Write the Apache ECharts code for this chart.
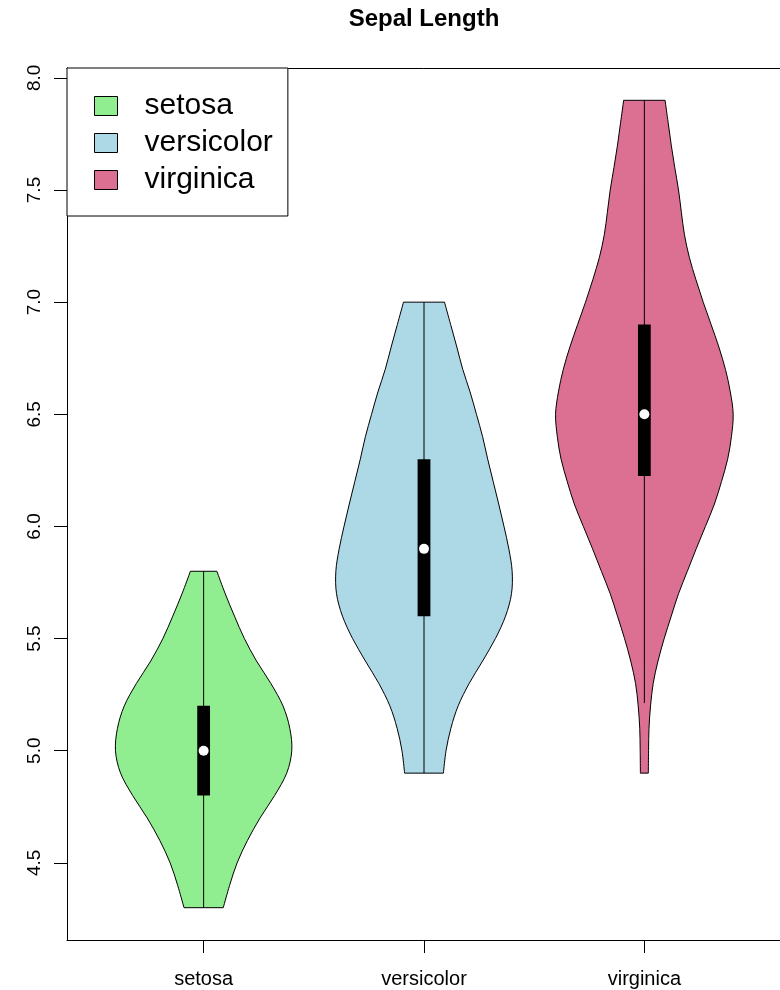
<!DOCTYPE html>
<html>
<head>
<meta charset="utf-8">
<script src="https://cdn.jsdelivr.net/npm/echarts@6/dist/echarts.min.js"></script>
<style>
  html, body { margin: 0; padding: 0; background: #ffffff; }
  #chart { width: 780px; height: 990px; }
</style>
</head>
<body>
<div id="chart"></div>
<script>
// Species shown along the x axis (placed at positions 1, 2, 3)
const categories = ['setosa', 'versicolor', 'virginica'];
const fillColors = ['#90EE90', '#ADD8E6', '#DB7093'];

// Y axis tick values
const yTicks = [4.5, 5.0, 5.5, 6.0, 6.5, 7.0, 7.5, 8.0];

// Violin outlines: sepal length levels and the half-width of the violin at each level
const setosaLevels = [4.3, 4.4, 4.5, 4.6, 4.7, 4.8, 4.9, 5.0, 5.1, 5.2, 5.3, 5.4, 5.5, 5.6, 5.7, 5.8];
const setosaHalfWidth = [0.089, 0.118, 0.152, 0.199, 0.256, 0.322, 0.377, 0.400, 0.391, 0.360, 0.305, 0.240, 0.185, 0.140, 0.098, 0.060];

const versicolorLevels = [4.9, 5.0, 5.1, 5.2, 5.3, 5.4, 5.5, 5.6, 5.7, 5.8, 5.9, 6.0, 6.1, 6.2, 6.3, 6.4, 6.5, 6.6, 6.7, 6.8, 6.9, 7.0];
const versicolorHalfWidth = [0.088, 0.100, 0.122, 0.155, 0.205, 0.266, 0.324, 0.370, 0.397, 0.400, 0.385, 0.363, 0.339, 0.314, 0.289, 0.266, 0.238, 0.209, 0.176, 0.149, 0.121, 0.093];

const virginicaLevels = [4.9, 5.0, 5.1, 5.2, 5.3, 5.4, 5.5, 5.6, 5.7, 5.8, 5.9, 6.0, 6.1, 6.2, 6.3, 6.4, 6.5, 6.6, 6.7, 6.8, 6.9, 7.0, 7.1, 7.2, 7.3, 7.4, 7.5, 7.6, 7.7, 7.8, 7.9];
const virginicaHalfWidth = [0.018, 0.019, 0.021, 0.028, 0.040, 0.062, 0.090, 0.122, 0.155, 0.195, 0.235, 0.277, 0.318, 0.350, 0.378, 0.395, 0.403, 0.390, 0.368, 0.338, 0.303, 0.267, 0.234, 0.204, 0.182, 0.168, 0.155, 0.138, 0.122, 0.108, 0.094];

// Box plot summaries per species
const lowerWhisker = [4.3, 4.9, 5.2125];
const quartile1 = [4.8, 5.6, 6.225];
const medians = [5.0, 5.9, 6.5];
const quartile3 = [5.2, 6.3, 6.9];
const upperWhisker = [5.8, 7.0, 7.9];

const levelsBySpecies = [setosaLevels, versicolorLevels, virginicaLevels];
const widthsBySpecies = [setosaHalfWidth, versicolorHalfWidth, virginicaHalfWidth];

const FONT = "'Liberation Sans', Arial, Helvetica, sans-serif";
const BOX_HALF = 0.029;   // half width of the inner quartile box, in x-axis units
const X_MIN = 0.38, X_MAX = 3.62;
const Y_MIN = 4.156, Y_MAX = 8.044;

// Smooth a run of pixel points into cubic Bezier segments (Catmull-Rom tangents)
function curveThrough(pts) {
  let d = '';
  const n = pts.length;
  for (let k = 0; k < n - 1; k++) {
    const p0 = pts[Math.max(k - 1, 0)];
    const p1 = pts[k];
    const p2 = pts[k + 1];
    const p3 = pts[Math.min(k + 2, n - 1)];
    const c1x = p1[0] + (p2[0] - p0[0]) / 6;
    const c1y = p1[1] + (p2[1] - p0[1]) / 6;
    const c2x = p2[0] - (p3[0] - p1[0]) / 6;
    const c2y = p2[1] - (p3[1] - p1[1]) / 6;
    d += ' C' + c1x.toFixed(2) + ' ' + c1y.toFixed(2) + ' ' +
         c2x.toFixed(2) + ' ' + c2y.toFixed(2) + ' ' +
         p2[0].toFixed(2) + ' ' + p2[1].toFixed(2);
  }
  return d;
}

function violinSeries(i) {
  const levels = levelsBySpecies[i];
  const widths = widthsBySpecies[i];
  return {
    type: 'custom',
    name: categories[i],
    coordinateSystem: 'cartesian2d',
    xAxisIndex: 0,
    yAxisIndex: 0,
    itemStyle: { color: fillColors[i] },
    data: [[i + 1, medians[i]]],
    encode: { x: 0, y: 1 },
    renderItem: function (params, api) {
      const cx = api.value(0);
      const left = levels.map(function (v, k) { return api.coord([cx - widths[k], v]); });
      const right = levels.map(function (v, k) { return api.coord([cx + widths[k], v]); });
      const rightDown = right.slice().reverse();
      let d = 'M' + left[0][0].toFixed(2) + ' ' + left[0][1].toFixed(2);
      d += curveThrough(left);
      d += ' L' + rightDown[0][0].toFixed(2) + ' ' + rightDown[0][1].toFixed(2);
      d += curveThrough(rightDown);
      d += ' Z';

      const wTop = api.coord([cx, upperWhisker[i]]);
      const wBot = api.coord([cx, lowerWhisker[i]]);
      const boxTL = api.coord([cx - BOX_HALF, quartile3[i]]);
      const boxBR = api.coord([cx + BOX_HALF, quartile1[i]]);
      const med = api.coord([cx, medians[i]]);

      return {
        type: 'group',
        children: [
          { type: 'path', shape: { pathData: d },
            style: { fill: fillColors[i], stroke: '#000000', lineWidth: 1 } },
          { type: 'line', shape: { x1: wTop[0], y1: wTop[1], x2: wBot[0], y2: wBot[1] },
            style: { stroke: '#000000', lineWidth: 1 } },
          { type: 'rect', shape: { x: boxTL[0], y: boxTL[1], width: boxBR[0] - boxTL[0], height: boxBR[1] - boxTL[1] },
            style: { fill: '#000000' } },
          { type: 'circle', shape: { cx: med[0], cy: med[1], r: 5 },
            style: { fill: '#ffffff' } }
        ]
      };
    }
  };
}

const chart = echarts.init(document.getElementById('chart'), null, { renderer: 'canvas' });

chart.setOption({
  animation: false,
  backgroundColor: '#ffffff',
  title: {
    text: 'Sepal Length',
    left: 424,
    top: 7,
    textAlign: 'center',
    padding: 0,
    textStyle: { fontSize: 24, fontWeight: 'bold', color: '#000000', fontFamily: FONT }
  },
  grid: {
    left: 67, right: -1, top: 68, bottom: 50,
    outerBoundsMode: 'none',
    containLabel: false,
    show: false
  },
  legend: {
    data: categories,
    orient: 'vertical',
    left: 67,
    top: 68,
    padding: [23, 15, 21, 27],
    itemWidth: 23,
    itemHeight: 19,
    itemGap: 7,
    icon: 'rect',
    selectedMode: false,
    backgroundColor: '#ffffff',
    borderColor: '#000000',
    borderWidth: 1,
    itemStyle: { borderColor: '#000000', borderWidth: 1 },
    textStyle: { fontSize: 30, lineHeight: 30, color: '#000000', fontFamily: FONT, padding: [0, 0, 0, 22] }
  },
  xAxis: [
    {
      type: 'value',
      position: 'bottom',
      min: X_MIN,
      max: X_MAX,
      axisLine: { show: true, onZero: false, lineStyle: { color: '#000000', width: 1 } },
      splitLine: { show: false },
      axisTick: { show: true, length: 13, customValues: [1, 2, 3], lineStyle: { color: '#000000' } },
      axisLabel: {
        customValues: [1, 2, 3],
        formatter: function (v) { return categories[Math.round(v) - 1]; },
        fontSize: 20, margin: 29, color: '#000000', fontFamily: FONT
      }
    },
    {
      // top edge of the plot frame
      type: 'value',
      position: 'top',
      min: X_MIN,
      max: X_MAX,
      axisLine: { show: true, onZero: false, lineStyle: { color: '#000000', width: 1 } },
      axisTick: { show: false },
      axisLabel: { show: false },
      splitLine: { show: false }
    }
  ],
  yAxis: {
    type: 'value',
    min: Y_MIN,
    max: Y_MAX,
    axisLine: { show: true, onZero: false, lineStyle: { color: '#000000', width: 1 } },
    splitLine: { show: false },
    axisTick: { show: true, length: 13, customValues: yTicks, lineStyle: { color: '#000000' } },
    axisLabel: {
      customValues: yTicks,
      formatter: function (v) { return v.toFixed(1); },
      rotate: 90,
      fontSize: 19, margin: 23, color: '#000000', fontFamily: FONT
    }
  },
  series: [violinSeries(0), violinSeries(1), violinSeries(2)]
});
</script>
</body>
</html>
